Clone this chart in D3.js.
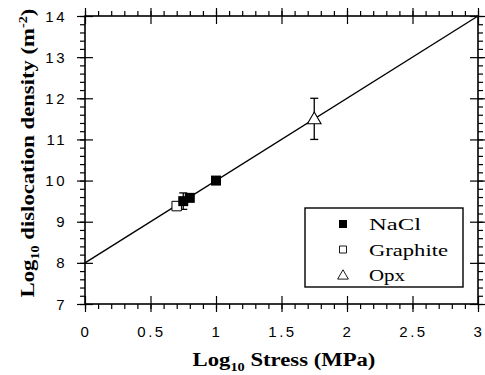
<!DOCTYPE html>
<html>
<head>
<meta charset="utf-8">
<script src="https://cdn.jsdelivr.net/npm/d3@7"></script>
<style>
  html, body { margin: 0; padding: 0; background: #fff; }
  svg { display: block; }
</style>
</head>
<body>
<svg id="chart" width="485" height="375"></svg>
<script>
// Log10 dislocation density vs log10 stress
const xDomain = [0, 3];
const yDomain = [7, 14];
const xTicks = [0, 0.5, 1, 1.5, 2, 2.5, 3];
const yTicks = [7, 8, 9, 10, 11, 12, 13, 14];

// fitted line: log rho = 8 + 2 log sigma
const fitX = [0, 3];
const fitY = [8, 14];

const naclX = [0.75, 0.8, 1.0];
const naclY = [9.5, 9.58, 10.0];
const naclErr = [0.2, 0, 0];

const graphiteX = [0.7];
const graphiteY = [9.38];

const opxX = [1.75];
const opxY = [11.5];
const opxErr = [0.5];

const legendNames = ["NaCl", "Graphite", "Opx"];

const svg = d3.select("#chart");
const plotL = 85, plotR = 478, plotT = 16, plotB = 304;

const x = d3.scaleLinear().domain(xDomain).range([plotL, plotR]);
const y = d3.scaleLinear().domain(yDomain).range([plotB, plotT]);

const ink = "#000";
const sans = "'Liberation Sans', Arial, sans-serif";
const serif = "'Liberation Serif', 'Times New Roman', serif";

// stretch a text element horizontally to a given width (original type is wide)
function fitWidth(sel, w) {
  sel.each(function () {
    const len = this.getComputedTextLength();
    const k = w / len;
    const t = d3.select(this);
    const base = t.attr("data-t") || "";
    t.attr("transform", base + ` scale(${k},1)`);
  });
}

// frame + ticks
const minorX = d3.range(0, 3.0001, 0.1).map((d) => +d.toFixed(2));
const minorY = d3.range(7, 14.0001, 0.2).map((d) => +d.toFixed(2));

function tickAxis(axisFn, scale, vals, major, transform) {
  const g = svg.append("g").attr("transform", transform);
  // minor ticks, pointing outward
  g.call(axisFn(scale).tickValues(vals).tickSize(5).tickFormat(""));
  // major ticks, crossing the frame
  const gm = svg.append("g").attr("transform", transform);
  gm.call(axisFn(scale).tickValues(major).tickSize(8).tickFormat(""));
  gm.selectAll(".tick line").each(function () {
    const l = d3.select(this);
    ["x2", "y2"].forEach((a) => {
      const v = +l.attr(a);
      if (v) l.attr(a.replace("2", "1"), -v);
    });
  });
  [g, gm].forEach((s) => {
    s.select(".domain").remove();
    s.selectAll(".tick line").attr("stroke", ink).attr("stroke-width", 1.2);
  });
}

tickAxis(d3.axisBottom, x, minorX, xTicks, `translate(0,${plotB})`);
tickAxis(d3.axisTop, x, minorX, xTicks, `translate(0,${plotT})`);
tickAxis(d3.axisLeft, y, minorY, yTicks, `translate(${plotL},0)`);
tickAxis(d3.axisRight, y, minorY, yTicks, `translate(${plotR},0)`);

svg.append("rect")
  .attr("x", plotL).attr("y", plotT)
  .attr("width", plotR - plotL).attr("height", plotB - plotT)
  .attr("fill", "none").attr("stroke", ink).attr("stroke-width", 1.6);

// tick labels
svg.append("g").selectAll("text")
  .data(xTicks)
  .join("text")
  .attr("x", (d) => x(d) + 1)
  .attr("y", 337)
  .attr("text-anchor", "middle")
  .attr("font-family", sans).attr("font-size", 15)
  .attr("letter-spacing", 2.5)
  .text((d) => d3.format("~g")(d));

svg.append("g").selectAll("text")
  .data(yTicks)
  .join("text")
  .attr("x", 67)
  .attr("y", (d) => y(d) + 5.5)
  .attr("text-anchor", "end")
  .attr("font-family", sans).attr("font-size", 15)
  .attr("letter-spacing", 2.5)
  .text((d) => d);

// fit line
const line = d3.line().x((d) => x(d[0])).y((d) => y(d[1]));
svg.append("path")
  .datum(d3.zip(fitX, fitY))
  .attr("d", line)
  .attr("fill", "none").attr("stroke", ink).attr("stroke-width", 1.4);

// error bars
function errBars(xs, ys, es) {
  const data = d3.zip(xs, ys, es).filter((d) => d[2] > 0);
  const g = svg.append("g").attr("stroke", ink).attr("stroke-width", 1.3);
  g.selectAll("line.v").data(data).join("line")
    .attr("x1", (d) => x(d[0])).attr("x2", (d) => x(d[0]))
    .attr("y1", (d) => y(d[1] - d[2])).attr("y2", (d) => y(d[1] + d[2]));
  [-1, 1].forEach((s) => {
    g.append("g").selectAll("line").data(data).join("line")
      .attr("x1", (d) => x(d[0]) - 4).attr("x2", (d) => x(d[0]) + 4)
      .attr("y1", (d) => y(d[1] + s * d[2])).attr("y2", (d) => y(d[1] + s * d[2]));
  });
}
errBars(naclX, naclY, naclErr);
errBars(opxX, opxY, opxErr);

// markers
const sq = d3.symbol().type(d3.symbolSquare);
const tri = d3.symbol().type(d3.symbolTriangle);

svg.append("g").selectAll("path")
  .data(d3.zip(graphiteX, graphiteY))
  .join("path")
  .attr("d", sq.size(90)())
  .attr("transform", (d) => `translate(${x(d[0])},${y(d[1])})`)
  .attr("fill", "#fff").attr("stroke", ink).attr("stroke-width", 1);

svg.append("g").selectAll("path")
  .data(d3.zip(naclX, naclY))
  .join("path")
  .attr("d", sq.size(100)())
  .attr("transform", (d) => `translate(${x(d[0])},${y(d[1])})`)
  .attr("fill", ink);

svg.append("g").selectAll("path")
  .data(d3.zip(opxX, opxY))
  .join("path")
  .attr("d", tri.size(80)())
  .attr("transform", (d) => `translate(${x(d[0])},${y(d[1]) + 1})`)
  .attr("fill", "#fff").attr("stroke", ink).attr("stroke-width", 1.1);

// legend
const lg = svg.append("g");
lg.append("rect")
  .attr("x", 305).attr("y", 208).attr("width", 158).attr("height", 79)
  .attr("fill", "#fff").attr("stroke", ink).attr("stroke-width", 1.4);

const legendRows = lg.selectAll("g.row")
  .data(legendNames)
  .join("g")
  .attr("class", "row")
  .attr("transform", (d, i) => `translate(0,${224 + i * 25.5})`);

legendRows.append("path")
  .attr("d", (d, i) => (i === 2 ? tri.size(50)() : sq.size(i === 0 ? 64 : 49)()))
  .attr("transform", (d, i) => `translate(343,${i === 2 ? 1 : 0})`)
  .attr("fill", (d, i) => (i === 0 ? ink : "#fff"))
  .attr("stroke", ink).attr("stroke-width", (d, i) => (i === 0 ? 0 : 0.9));

const widths = [52, 79, 36];
legendRows.append("text")
  .attr("data-t", "translate(369,6)")
  .attr("transform", "translate(369,6)")
  .attr("font-family", serif).attr("font-size", 17)
  .text((d) => d)
  .each(function (d, i) { fitWidth(d3.select(this), widths[i]); });

// axis titles
const xt = svg.append("text")
  .attr("data-t", "translate(284,366)")
  .attr("text-anchor", "middle")
  .attr("font-family", serif).attr("font-size", 19).attr("font-weight", "bold");
xt.append("tspan").text("Log");
xt.append("tspan").attr("font-size", 12).attr("dy", 5).text("10");
xt.append("tspan").attr("dy", -5).text(" Stress (MPa)");
fitWidth(xt, 183);

const yt = svg.append("text")
  .attr("data-t", "translate(34,153) rotate(-90)")
  .attr("text-anchor", "middle")
  .attr("font-family", serif).attr("font-size", 19).attr("font-weight", "bold");
yt.append("tspan").text("Log");
yt.append("tspan").attr("font-size", 12).attr("dy", 5).text("10");
yt.append("tspan").attr("dy", -5).text(" dislocation density (m");
yt.append("tspan").attr("font-size", 12).attr("dy", -7).text("-2");
yt.append("tspan").attr("dy", 7).text(")");
fitWidth(yt, 289);
</script>
</body>
</html>
